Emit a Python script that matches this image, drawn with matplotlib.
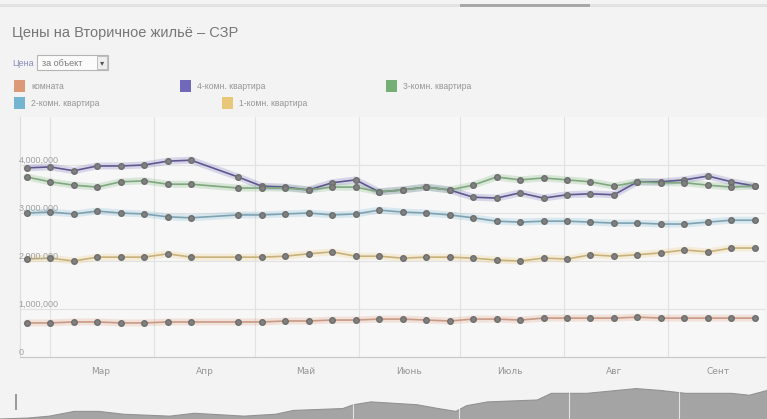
import matplotlib
matplotlib.use("Agg")
import matplotlib.pyplot as plt
from matplotlib.patches import Rectangle
import pandas as pd

# weekly price points (the Apr 19 week has no data)
dates = ["2013-02-22", "2013-03-01", "2013-03-08", "2013-03-15", "2013-03-22", "2013-03-29",
         "2013-04-05", "2013-04-12", "2013-04-26", "2013-05-03", "2013-05-10", "2013-05-17",
         "2013-05-24", "2013-05-31", "2013-06-07", "2013-06-14", "2013-06-21", "2013-06-28",
         "2013-07-05", "2013-07-12", "2013-07-19", "2013-07-26", "2013-08-02", "2013-08-09",
         "2013-08-16", "2013-08-23", "2013-08-30", "2013-09-06", "2013-09-13", "2013-09-20",
         "2013-09-27"]

room = [710000, 710000, 730000, 730000, 710000, 710000, 730000, 730000, 730000, 730000, 750000,
        750000, 770000, 770000, 790000, 790000, 770000, 750000, 790000, 790000, 770000, 810000,
        810000, 810000, 810000, 830000, 810000, 810000, 810000, 810000, 810000]
flat1 = [2040000, 2060000, 2000000, 2080000, 2080000, 2080000, 2150000, 2080000, 2080000, 2080000,
         2100000, 2150000, 2190000, 2100000, 2100000, 2060000, 2080000, 2080000, 2060000, 2020000,
         2000000, 2060000, 2040000, 2130000, 2100000, 2130000, 2170000, 2230000, 2190000, 2270000,
         2270000]
flat2 = [3000000, 3020000, 2980000, 3040000, 3000000, 2980000, 2920000, 2900000, 2960000, 2960000,
         2980000, 3000000, 2960000, 2980000, 3060000, 3020000, 3000000, 2960000, 2900000, 2830000,
         2810000, 2830000, 2830000, 2810000, 2790000, 2790000, 2770000, 2770000, 2810000, 2850000,
         2850000]
flat3 = [3750000, 3650000, 3580000, 3540000, 3650000, 3670000, 3600000, 3600000, 3520000, 3520000,
         3520000, 3480000, 3540000, 3540000, 3440000, 3480000, 3540000, 3480000, 3580000, 3750000,
         3690000, 3730000, 3690000, 3650000, 3560000, 3650000, 3630000, 3630000, 3580000, 3540000,
         3560000]
flat4 = [3940000, 3960000, 3880000, 3980000, 3980000, 4000000, 4080000, 4100000, 3750000, 3560000,
         3540000, 3480000, 3630000, 3690000, 3440000, 3480000, 3540000, 3480000, 3330000, 3310000,
         3420000, 3310000, 3380000, 3400000, 3380000, 3650000, 3650000, 3690000, 3770000, 3650000,
         3560000]

series_names = ["комната", "4-комн. квартира", "3-комн. квартира", "2-комн. квартира", "1-комн. квартира"]
series_colors = ["#d98a62", "#5b50b0", "#5fa35f", "#5eaccb", "#e8c062"]
line_colors = ["#c89a86", "#5f5890", "#7fa87f", "#7ea2b2", "#c8b27a"]
series_values = [room, flat4, flat3, flat2, flat1]

y_ticks = [0, 1000000, 2000000, 3000000, 4000000]
y_labels = ["0", "1,000,000", "2,000,000", "3,000,000", "4,000,000"]
months = ["2013-03-01", "2013-04-01", "2013-05-01", "2013-06-01", "2013-07-01", "2013-08-01", "2013-09-01"]
month_mids = ["2013-03-16", "2013-04-16", "2013-05-16", "2013-06-16", "2013-07-16", "2013-08-16", "2013-09-16"]
month_labels = ["Мар", "Апр", "Май", "Июнь", "Июль", "Авг", "Сент"]

# overview strip at the bottom
overview_dates = ["2013-02-21", "2013-03-01", "2013-03-07", "2013-03-14", "2013-03-21", "2013-03-28",
                  "2013-04-10", "2013-04-17", "2013-05-01", "2013-05-10", "2013-05-15", "2013-05-29",
                  "2013-06-01", "2013-06-06", "2013-06-19", "2013-06-25", "2013-06-30", "2013-07-03",
                  "2013-07-09", "2013-07-23", "2013-07-27", "2013-08-06", "2013-08-20", "2013-08-27",
                  "2013-09-03", "2013-09-16", "2013-09-21", "2013-09-26"]
overview_volume = [0, 1, 3, 8, 8, 5, 3, 6, 3, 5, 9, 11, 15, 18, 15, 11, 8, 14, 18, 20, 27, 27, 32,
                   30, 27, 27, 25, 30]

W, H = 767, 419
bg = "#f3f3f3"
txt = "#959595"

fig = plt.figure(figsize=(W / 100, H / 100), dpi=100, facecolor=bg)


def fx(px):
    return px / W


def fy(py):
    return 1 - py / H


# top tab strip
fig.add_artist(Rectangle((fx(0), fy(7)), 1, 3 / H, transform=fig.transFigure,
                         facecolor="#e2e2e2", edgecolor="none"))
fig.add_artist(Rectangle((fx(460), fy(7)), 130 / W, 3 / H, transform=fig.transFigure,
                         facecolor="#a8a8a8", edgecolor="none"))

fig.text(fx(12), fy(33), "Цены на Вторичное жильё – СЗР", fontsize=10.5, color="#777777",
         va="center", ha="left", family="Liberation Sans")

# price selector
fig.text(fx(12), fy(63), "Цена", fontsize=6.5, color="#8c8cb8", va="center", family="Liberation Sans")
fig.add_artist(Rectangle((fx(37), fy(70)), 71 / W, 15 / H, transform=fig.transFigure,
                         facecolor="#fbfbfb", edgecolor="#b5b5b5", lw=0.8))
fig.text(fx(42), fy(63), "за объект", fontsize=6.5, color="#7a7a7a", va="center", family="Liberation Sans")
fig.add_artist(Rectangle((fx(97), fy(69)), 10 / W, 13 / H, transform=fig.transFigure,
                         facecolor="#eeeeee", edgecolor="#b5b5b5", lw=0.6))
fig.text(fx(102), fy(63), "▾", fontsize=6, color="#555555", va="center", ha="center")

# legend
legend_pos = [(14, 86), (180, 86), (386, 86), (14, 103), (222, 103)]
for (lx, ly), name, col in zip(legend_pos, series_names, series_colors):
    fig.add_artist(Rectangle((fx(lx), fy(ly + 6)), 11 / W, 12 / H, transform=fig.transFigure,
                             facecolor=col, edgecolor="none", alpha=0.85))
    fig.text(fx(lx + 17), fy(ly), name, fontsize=6.2, color=txt, va="center", family="Liberation Sans")

# main chart
ax = fig.add_axes([fx(20), fy(357), 745 / W, 240 / H])
ax.set_facecolor("#f7f7f7")
x = pd.to_datetime(dates)

for vals, col, lc in zip(series_values, series_colors, line_colors):
    ax.plot(x, vals, color=col, lw=5, alpha=0.2, solid_capstyle="round", zorder=2)
    ax.plot(x, vals, color=lc, lw=1.2, zorder=3)
    ax.plot(x, vals, ls="none", marker="o", ms=4.0, color="#808080", mec="#6e6e6e", zorder=4)

ax.set_xlim(pd.Timestamp("2013-02-20"), pd.Timestamp("2013-09-30"))
ax.set_ylim(0, 5000000)

ax.set_xticks(pd.to_datetime(months))
ax.set_xticklabels([])
ax.set_xticks(pd.to_datetime(month_mids), minor=True)
ax.set_xticklabels(month_labels, minor=True)
ax.tick_params(axis="x", which="both", length=0, labelsize=6.5, labelcolor=txt, pad=7)
ax.set_yticks(y_ticks)
ax.set_yticklabels([])
ax.tick_params(axis="y", length=0)
ax.grid(True, which="major", color="#e2e2e2", lw=0.8)
ax.set_axisbelow(True)

for v, lab in zip(y_ticks, y_labels):
    ax.text(-0.002, v, lab, transform=ax.get_yaxis_transform(), fontsize=6.5, color="#a0a0a0",
            va="bottom", ha="left", family="Liberation Sans")

for side in ["top", "right"]:
    ax.spines[side].set_visible(False)
ax.spines["left"].set_color("#dddddd")
ax.spines["bottom"].set_color("#c8c8c8")

# overview strip
ov = fig.add_axes([0, 0, 1, 38 / H])
ov.set_facecolor("#eeeeee")
ox = pd.to_datetime(overview_dates)
ov.fill_between(ox, overview_volume, color="#a4a4a4", lw=0)
ov.plot(ox, overview_volume, color="#929292", lw=0.8)
for m in months[3:]:
    ov.axvline(pd.Timestamp(m), color="#f4f4f4", lw=0.8, alpha=0.8)
ov.set_xlim(pd.Timestamp("2013-02-21"), pd.Timestamp("2013-09-26"))
ov.set_ylim(0, 40)
ov.axis("off")
fig.add_artist(Rectangle((fx(15), fy(410)), 2 / W, 16 / H, transform=fig.transFigure,
                         facecolor="#9a9a9a", edgecolor="none"))

fig.savefig("out.png", dpi=100, facecolor=bg)
